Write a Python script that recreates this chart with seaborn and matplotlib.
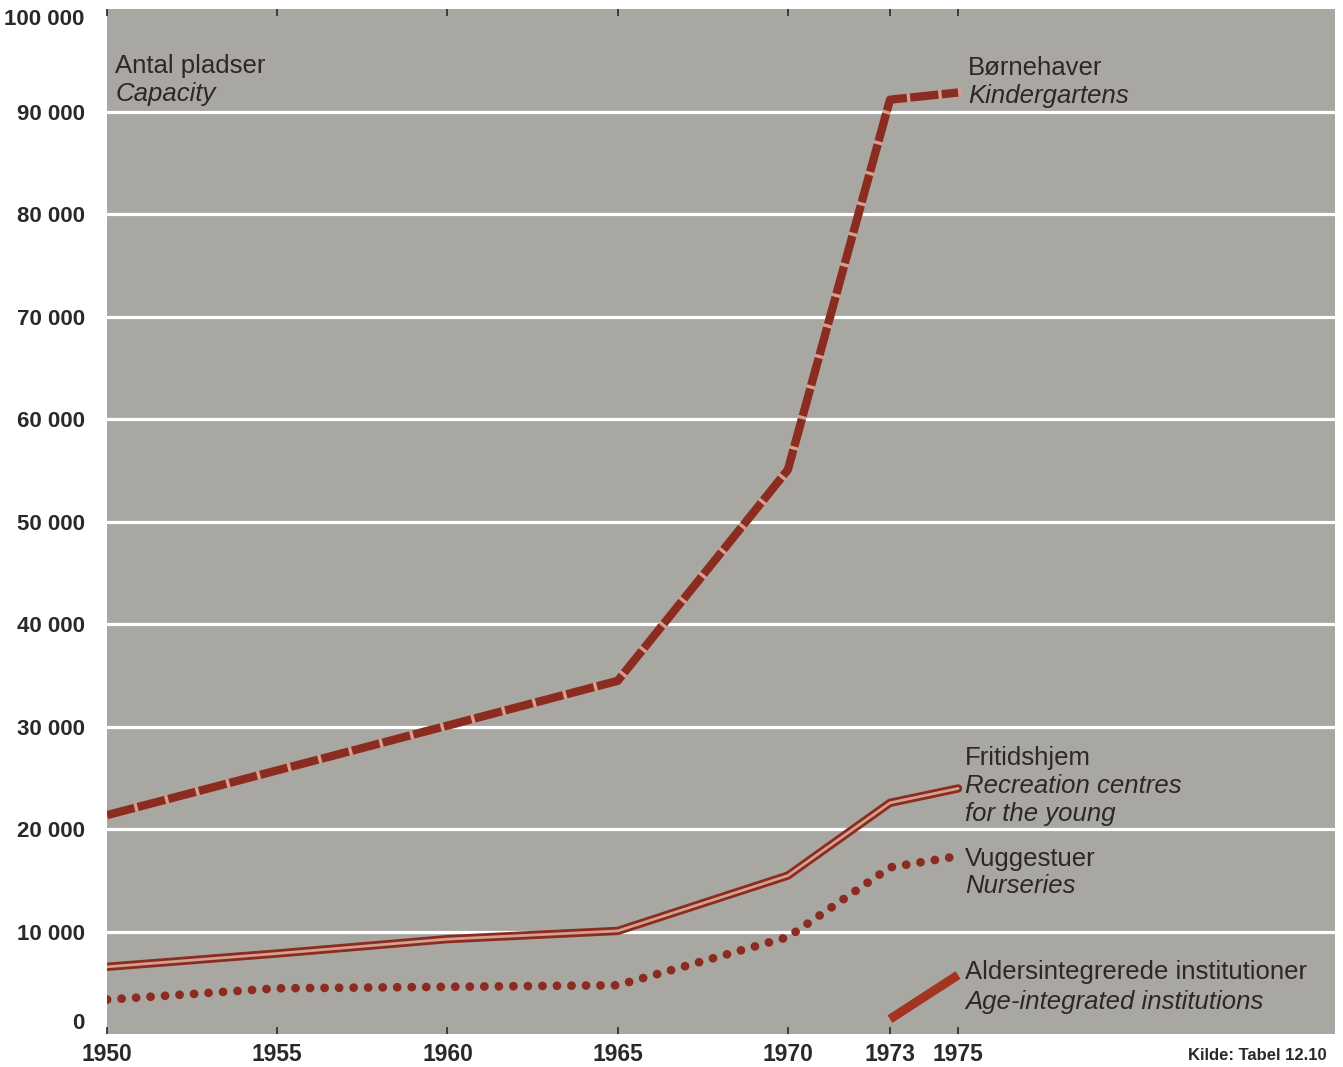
import numpy as np
import pandas as pd
import matplotlib.pyplot as plt
import seaborn as sns

# values (places)
kinder_years = [1950, 1965, 1970, 1973, 1975]
kinder_vals = [21400, 34500, 55100, 91200, 91900]

recr_years = [1950, 1955, 1960, 1965, 1970, 1973, 1975]
recr_vals = [6600, 7900, 9300, 10100, 15500, 22600, 24000]

nurs_years = [1950, 1955, 1965, 1970, 1973, 1975]
nurs_vals = [3400, 4500, 4800, 9500, 16300, 17400]

age_years = [1973, 1975]
age_vals = [1500, 5800]

year_ticks = [1950, 1955, 1960, 1965, 1970, 1973, 1975]
y_ticks = list(range(0, 100001, 10000))

dark_red = "#8a2c1f"
pink = "#d4a090"
bg = "#a9a7a2"
txt = "#2b2826"

sns.set_style("white", {"axes.facecolor": bg})
plt.rcParams["font.family"] = ["Liberation Sans", "DejaVu Sans"]

fig = plt.figure(figsize=(13.43, 10.67), dpi=100)
ax = fig.add_axes([0.0797, 0.0305, 0.9143, 0.9606])
ax.set_facecolor(bg)

# white grid
for v in y_ticks[1:-1]:
    ax.axhline(v, color="white", lw=2.3, zorder=1)

# kindergartens: dashed heavy line
sns.lineplot(x=kinder_years, y=kinder_vals, ax=ax, color=pink, lw=6, zorder=3)
sns.lineplot(x=kinder_years, y=kinder_vals, ax=ax, color=dark_red, lw=6,
             linestyle=(0, (3.4, 0.4)), zorder=4)

# recreation centres: double line
sns.lineplot(x=recr_years, y=recr_vals, ax=ax, color=dark_red, lw=6, zorder=3)
sns.lineplot(x=recr_years, y=recr_vals, ax=ax, color=pink, lw=2, zorder=4)

# nurseries: dotted
sns.lineplot(x=nurs_years, y=nurs_vals, ax=ax, color=dark_red, lw=6.3,
             linestyle=(0, (0.01, 1.65)), dash_capstyle="round", zorder=3)

# age-integrated: solid heavy
sns.lineplot(x=age_years, y=age_vals, ax=ax, color="#a3341f", lw=6.5,
             solid_capstyle="butt", zorder=3)

ax.set_xlim(1950, 1986.07)
ax.set_ylim(0, 100000)
ax.set_xticks(year_ticks)
ax.set_xticklabels([str(y) for y in year_ticks], fontsize=16.5, color=txt,
                   fontweight="bold")
ax.set_yticks(y_ticks)
ax.set_yticklabels(["0" if v == 0 else f"{v // 1000} 000" for v in y_ticks],
                   fontsize=16, color=txt, fontweight="bold")
ylabs = ax.get_yticklabels()
ylabs[0].set_va("bottom")
ylabs[-1].set_va("top")
ax.tick_params(axis="x", direction="in", top=True, bottom=True, length=5,
               width=1.3, color="#333333", pad=6)
ax.tick_params(axis="y", length=0, pad=16)
ax.set_xlabel("")
ax.set_ylabel("")
for s in ax.spines.values():
    s.set_visible(False)

fs = 18.5
labels = [
    (1950.24, 94490, "Antal pladser", "normal"),
    (1950.24, 91750, "Capacity", "italic"),
    (1975.3, 94290, "Børnehaver", "normal"),
    (1975.3, 91560, "Kindergartens", "italic"),
    (1975.2, 26980, "Fritidshjem", "normal"),
    (1975.2, 24250, "Recreation centres", "italic"),
    (1975.2, 21510, "for the young", "italic"),
    (1975.2, 17120, "Vuggestuer", "normal"),
    (1975.2, 14490, "Nurseries", "italic"),
    (1975.2, 6100, "Aldersintegrerede institutioner", "normal"),
    (1975.2, 3170, "Age-integrated institutions", "italic"),
]
for x, y, s, st in labels:
    ax.text(x, y, s, fontsize=fs, style=st, color=txt, ha="left", va="center",
            zorder=5)

fig.text(0.988, 0.004, "Kilde: Tabel 12.10", fontsize=12, fontweight="bold",
         color=txt, ha="right", va="bottom")

fig.savefig("out.png", dpi=100, facecolor="white")
